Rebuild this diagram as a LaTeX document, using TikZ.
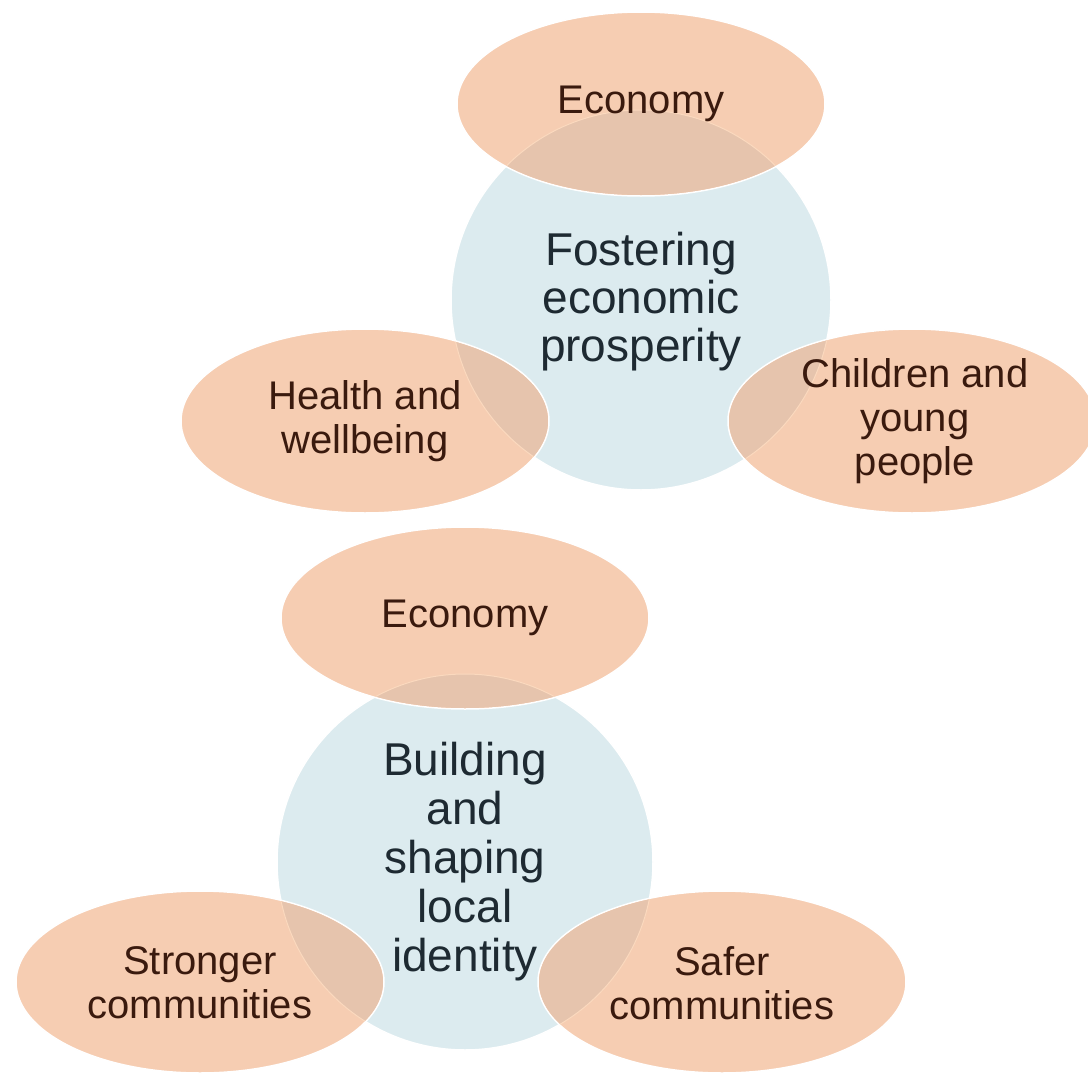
\documentclass[tikz,border=0pt]{standalone}
\usepackage{fontspec}
\setmainfont{Liberation Sans}
\definecolor{peach}{HTML}{F6CDB2}
\definecolor{overlapc}{HTML}{E6C4AD}
\definecolor{paleblue}{HTML}{DCEBEF}
\definecolor{rimc}{HTML}{FBD9BE}
\definecolor{ctext}{HTML}{1E2A32}
\definecolor{etext}{HTML}{3A1A0E}
\tikzset{
  circfill/.style={fill=paleblue, draw=white, line width=1.5pt},
  ellfill/.style={fill=peach, draw=white, line width=1.5pt},
  ovl/.style={fill=overlapc},
  rim/.style={draw=rimc, line width=1pt},
  circlabel/.style={align=center, text=ctext, font=\fontsize{46}{48}\selectfont},
  elllabel/.style={align=center, text=etext, font=\fontsize{40}{44}\selectfont},
}
\begin{document}
\begin{tikzpicture}[x=1pt,y=-1pt]
\useasboundingbox (0,0) rectangle (1088,1076);
\fill[white] (0,0) rectangle (1088,1076);
% ---- top group ----
\coordinate (c1) at (641,300);
\coordinate (e1a) at (641,104);
\coordinate (e1b) at (365,421);
\coordinate (e1c) at (912,421);
\fill[circfill] (c1) circle [radius=190];
\foreach \p in {e1a,e1b,e1c}{
  \path[ellfill] (\p) ellipse [x radius=184, y radius=92];
  \begin{scope}
    \clip (\p) ellipse [x radius=183, y radius=91];
    \fill[ovl] (c1) circle [radius=190];
    \draw[rim] (c1) circle [radius=190];
  \end{scope}
}
% ---- bottom group ----
\coordinate (c2) at (465,862);
\coordinate (e2a) at (465,618);
\coordinate (e2b) at (200,982);
\coordinate (e2c) at (722,982);
\fill[circfill] (c2) circle [radius=188];
\foreach \p in {e2a,e2b,e2c}{
  \path[ellfill] (\p) ellipse [x radius=184, y radius=91];
  \begin{scope}
    \clip (\p) ellipse [x radius=183, y radius=90];
    \fill[ovl] (c2) circle [radius=188];
    \draw[rim] (c2) circle [radius=188];
  \end{scope}
}
% ---- labels ----
\node[circlabel] (t1) at (641,302) {Fostering\\economic\\prosperity};
\node[elllabel] (l1a) at (641,104) {Economy};
\node[elllabel] (l1b) at (365,421) {Health and\\wellbeing};
\node[elllabel] (l1c) at (915,421) {Children and\\young\\people};
\node[circlabel,font=\fontsize{46}{49}\selectfont] (t2) at (465,862) {Building\\and\\shaping\\local\\identity};
\node[elllabel] (l2a) at (465,618) {Economy};
\node[elllabel] (l2b) at (200,983) {Stronger\\communities};
\node[elllabel] (l2c) at (722,983) {Safer\\communities};
\end{tikzpicture}
\end{document}
